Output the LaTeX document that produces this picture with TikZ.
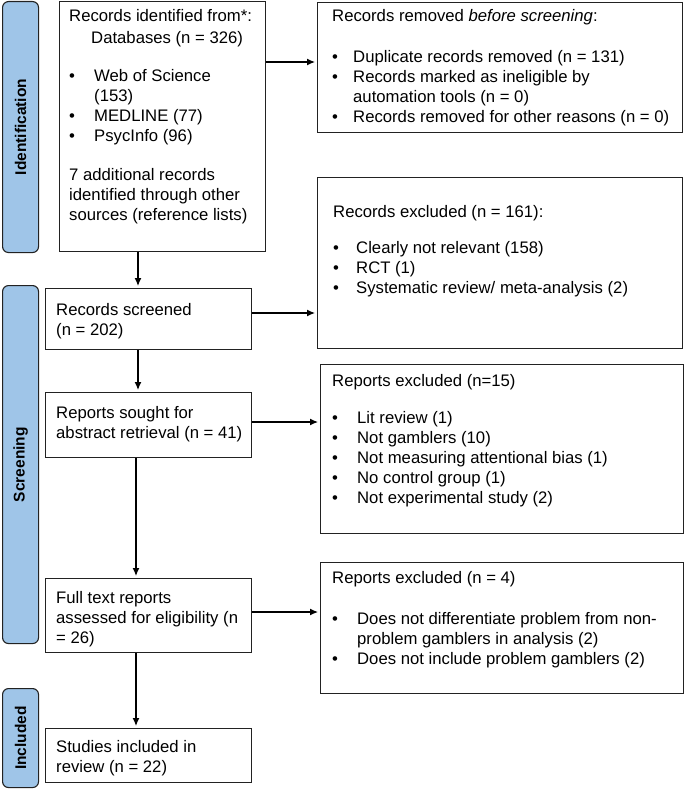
\documentclass[tikz,border=0pt]{standalone}
\usepackage{fontspec}
\setmainfont{Liberation Sans}
\usetikzlibrary{arrows.meta}
\definecolor{barblue}{HTML}{9FC5E8}
\definecolor{edge}{HTML}{222222}
\newcommand{\mtxt}[1]{\begin{tabular}[t]{@{}l@{}}#1\end{tabular}}
\newcommand{\bul}[1]{\makebox[#1pt][l]{\textbullet}}
\newcommand{\cont}[1]{\hspace*{#1pt}}
\begin{document}
\begin{tikzpicture}[x=1pt,y=1pt,
  box/.style={draw=edge, line width=1.2pt, inner sep=0pt, anchor=north west},
  bar/.style={draw=edge, fill=barblue, line width=1.1pt, rounded corners=6pt, inner sep=0pt, anchor=north west},
  txt/.style={inner sep=0pt, anchor=base west, font=\fontsize{16.7}{20}\selectfont},
  lab/.style={inner sep=0pt, rotate=90, font=\fontsize{15.5}{18}\selectfont\bfseries},
  arr/.style={draw=black, line width=1.2pt, -{Latex[length=8pt,width=7pt]}, shorten >=2pt}]
\useasboundingbox (0,0) rectangle (685,-789);

% side bars
\node[bar, minimum width=36pt, minimum height=251pt] (idbar) at (2,-1) {};
\node[lab] (idlab) at (idbar.center) {Identification};
\node[bar, minimum width=36pt, minimum height=358pt] (scbar) at (2,-285) {};
\node[lab] (sclab) at (scbar.center) {Screening};
\node[bar, minimum width=36pt, minimum height=99pt] (inbar) at (2,-688) {};
\node[lab] (inlab) at (inbar.center) {Included};

% boxes
\node[box, minimum width=206pt, minimum height=250pt] (b1) at (59,-1) {};
\node[box, minimum width=365pt, minimum height=130pt] (b2) at (317,-2) {};
\node[box, minimum width=365pt, minimum height=171pt] (b3) at (317,-177) {};
\node[box, minimum width=363pt, minimum height=169pt] (b4) at (320,-364) {};
\node[box, minimum width=363pt, minimum height=131pt] (b5) at (320,-562) {};
\node[box, minimum width=206pt, minimum height=61pt] (s1) at (45,-288) {};
\node[box, minimum width=206pt, minimum height=65pt] (s2) at (45,-392) {};
\node[box, minimum width=206pt, minimum height=74pt] (s3) at (45,-578) {};
\node[box, minimum width=206pt, minimum height=54pt] (s4) at (45,-728) {};

% texts
\node[txt] (b1t) at (69,-22) {\mtxt{Records identified from*:\\[2pt]
\cont{22}Databases (n = 326)\\[18pt]
\bul{25}Web of Science\\
\cont{25}(153)\\
\bul{25}MEDLINE (77)\\
\bul{25}PsycInfo (96)\\[19pt]
7 additional records\\
identified through other\\
sources (reference lists)}};

\node[txt] (b2t) at (332,-22) {\mtxt{Records removed \textit{before screening}:\\[21pt]
\bul{21}Duplicate records removed (n = 131)\\
\bul{21}Records marked as ineligible by\\
\cont{21}automation tools (n = 0)\\
\bul{21}Records removed for other reasons (n = 0)}};

\node[txt] (b3t) at (333,-217) {\mtxt{Records excluded (n = 161):\\[16pt]
\bul{23}Clearly not relevant (158)\\
\bul{23}RCT (1)\\
\bul{23}Systematic review/ meta-analysis (2)}};

\node[txt] (b4t) at (332,-386) {\mtxt{Reports excluded (n=15)\\[17pt]
\bul{25}Lit review (1)\\
\bul{25}Not gamblers (10)\\
\bul{25}Not measuring attentional bias (1)\\
\bul{25}No control group (1)\\
\bul{25}Not experimental study (2)}};

\node[txt] (b5t) at (332,-583) {\mtxt{Reports excluded (n = 4)\\[21pt]
\bul{25}Does not differentiate problem from non-\\
\cont{25}problem gamblers in analysis (2)\\
\bul{25}Does not include problem gamblers (2)}};

\node[txt] (s1t) at (56,-315) {\mtxt{Records screened\\ (n = 202)}};
\node[txt] (s2t) at (56,-418) {\mtxt{Reports sought for\\ abstract retrieval (n = 41)}};
\node[txt] (s3t) at (56,-603) {\mtxt{Full text reports\\ assessed for eligibility (n\\ = 26)}};
\node[txt] (s4t) at (56,-752) {\mtxt{Studies included in\\ review (n = 22)}};

% connectors
\coordinate (a1) at ([yshift=-61pt]b1.north east);
\draw[arr] (a1) -- (a1 -| b2.west);
\coordinate (a2) at ([xshift=79pt]b1.south west);
\draw[arr] (a2) -- (a2 |- s1.north);
\coordinate (a3) at ([xshift=93pt]s1.south west);
\draw[arr] (a3) -- (a3 |- s2.north);
\coordinate (a4) at ([xshift=91pt]s2.south west);
\draw[arr] (a4) -- (a4 |- s3.north);
\coordinate (a5) at ([xshift=91pt]s3.south west);
\draw[arr] (a5) -- (a5 |- s4.north);
\coordinate (a6) at ([yshift=-25pt]s1.north east);
\draw[arr] (a6) -- (a6 -| b3.west);
\coordinate (a7) at ([yshift=-30pt]s2.north east);
\draw[arr] (a7) -- (a7 -| b4.west);
\coordinate (a8) at ([yshift=-34pt]s3.north east);
\draw[arr] (a8) -- (a8 -| b5.west);
\end{tikzpicture}
\end{document}
